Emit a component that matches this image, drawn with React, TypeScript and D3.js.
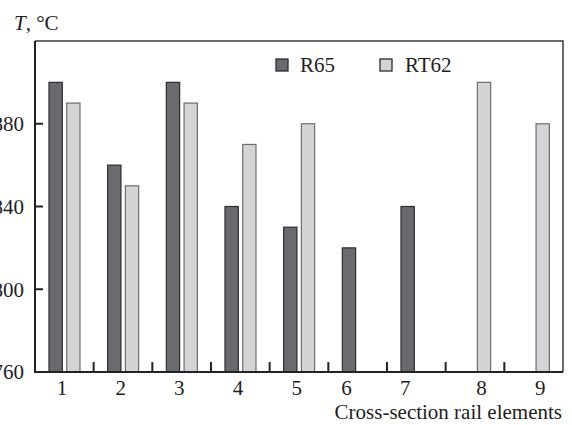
import React from "react";
import * as d3 from "d3";

const categories = ["1", "2", "3", "4", "5", "6", "7", "8", "9"];
const seriesNames = ["R65", "RT62"];
const r65Values: (number | null)[] = [900, 860, 900, 840, 830, 820, 840, null, null];
const rt62Values: (number | null)[] = [890, 850, 890, 870, 880, null, null, 900, 880];
const yTicks = [760, 800, 840, 880];
const yDomain = [760, 920];

const W = 572;
const H = 425;
const M = { left: 35, right: 9, top: 41, bottom: 53 };
const FONT = '"Liberation Serif", "Times New Roman", Times, serif';
const FS = 21;
const colors: Record<string, { fill: string; stroke: string }> = {
  R65: { fill: "#6a6b6f", stroke: "#2c2c2e" },
  RT62: { fill: "#d3d4d6", stroke: "#6e6e70" },
};
const ts: React.CSSProperties = { fontFamily: FONT, fontSize: FS, fill: "#1e1e1e" };

export default function App() {
  const x0 = M.left;
  const x1 = W - M.right;
  const yB = H - M.bottom;
  const yT = M.top;
  const x = d3.scaleBand<string>().domain(categories).range([x0, x1]).padding(0);
  const inner = d3
    .scaleBand<string>()
    .domain(seriesNames)
    .range([14, 45])
    .paddingInner(0.25)
    .paddingOuter(0);
  const y = d3.scaleLinear().domain(yDomain).range([yB, yT]);
  const series = [
    { name: "R65", values: r65Values },
    { name: "RT62", values: rt62Values },
  ];
  const bw = inner.bandwidth();

  return (
    <svg
      width={W}
      height={H}
      style={{ position: "absolute", left: 0, top: 0, background: "#fff" }}
    >
      {series.map((s) =>
        s.values.map((v, i) =>
          v == null ? null : (
            <rect
              key={s.name + i}
              x={(x(categories[i]) as number) + (inner(s.name) as number)}
              y={y(v)}
              width={bw}
              height={yB - y(v)}
              fill={colors[s.name].fill}
              stroke={colors[s.name].stroke}
              strokeWidth={1.2}
            />
          )
        )
      )}
      <path
        d={`M${x0},${yT}H${x1}V${yB}`}
        fill="none"
        stroke="#3a3a3a"
        strokeWidth={1.5}
      />
      <path
        d={`M${x0},${yT}V${yB}H${x1}`}
        fill="none"
        stroke="#222"
        strokeWidth={2}
      />
      {yTicks.map((t) => (
        <g key={t}>
          {t !== yDomain[0] && (
            <line x1={x0} x2={x0 + 8} y1={y(t)} y2={y(t)} stroke="#222" strokeWidth={2} />
          )}
          <text x={24} y={y(t)} dy="0.35em" textAnchor="end" style={ts}>
            {t}
          </text>
        </g>
      ))}
      {categories.slice(1).map((c) => (
        <line
          key={c}
          x1={x(c) as number}
          x2={x(c) as number}
          y1={yB}
          y2={yB - 10}
          stroke="#222"
          strokeWidth={2}
        />
      ))}
      {categories.map((c, i) => {
        const centers = series
          .filter((s) => s.values[i] != null)
          .map((s) => (x(c) as number) + (inner(s.name) as number) + bw / 2);
        const cx = d3.mean(centers) as number;
        return (
          <text key={c} x={cx - 2.5} y={395} textAnchor="middle" style={ts}>
            {c}
          </text>
        );
      })}
      <text x={x1 - 1} y={419} textAnchor="end" style={ts}>
        Cross-section rail elements
      </text>
      <text x={14} y={30} style={ts}>
        <tspan fontStyle="italic">T</tspan>, °C
      </text>
      {[
        { name: "R65", bx: 276, tx: 300 },
        { name: "RT62", bx: 380, tx: 405 },
      ].map((l) => (
        <g key={l.name}>
          <rect
            x={l.bx}
            y={59}
            width={12}
            height={12}
            fill={colors[l.name].fill}
            stroke="#2c2c2e"
            strokeWidth={1.3}
          />
          <text x={l.tx} y={72} style={ts}>
            {l.name}
          </text>
        </g>
      ))}
    </svg>
  );
}
